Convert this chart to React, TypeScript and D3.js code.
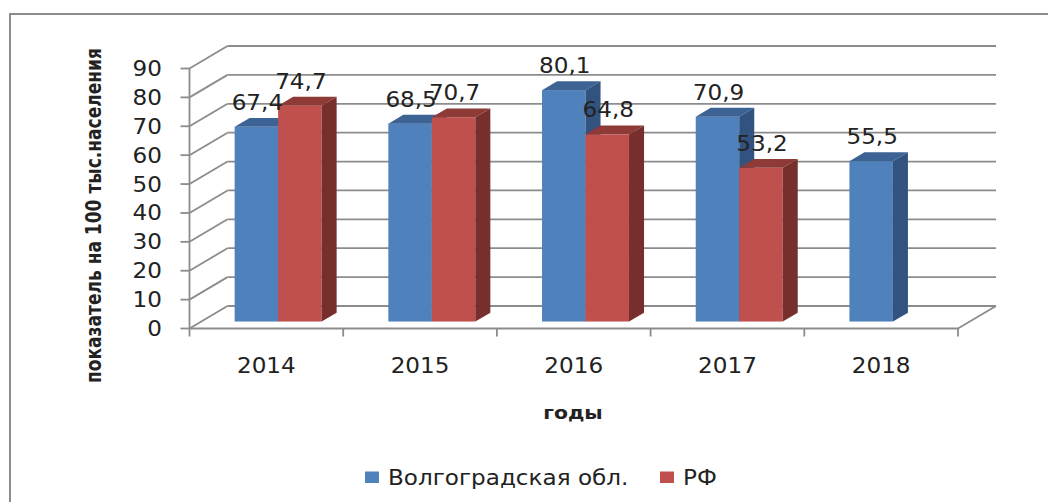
import React from 'react';
import * as d3 from 'd3';

// chart data
const years = ['2014', '2015', '2016', '2017', '2018'];
const seriesNames = ['Волгоградская обл.', 'РФ'];
const volgograd = [67.4, 68.5, 80.1, 70.9, 55.5];
const russia: (number | null)[] = [74.7, 70.7, 64.8, 53.2, null];
const yTicks = [0, 10, 20, 30, 40, 50, 60, 70, 80, 90];
const yTitle = 'показатель на 100 тыс.населения';
const xTitle = 'годы';

const W = 1048;
const H = 502;

// 3d projection: full depth offset of the floor
const DX = 38;
const DY = -22.5;
const F0 = 0.31; // bar front depth fraction
const F1 = 0.705; // bar back depth fraction

const colors = [
  {front: '#4f81bd', top: '#3c6394', side: '#32537f'},
  {front: '#c0504d', top: '#8e3a37', side: '#772f2e'},
];
const gridColor = '#8c8c8c';
const textColor = '#222';
const FONT = '"DejaVu Sans", Verdana, sans-serif';
const SX = 1.1; // horizontal stretch of the original text

const Txt: React.FC<{
  x: number;
  y: number;
  anchor?: string;
  size?: number;
  weight?: string;
  children: React.ReactNode;
}> = ({x, y, anchor = 'middle', size = 21, weight = 'normal', children}) => (
  <text
    transform={`translate(${x},${y}) scale(${SX},1)`}
    textAnchor={anchor}
    fontFamily={FONT}
    fontSize={size}
    fontWeight={weight}
    fill={textColor}
  >
    {children}
  </text>
);

export default function App() {
  const x = d3.scaleBand<string>().domain(years).range([189.5, 958]);
  const y = d3.scaleLinear().domain([0, 90]).range([328.5, 68.5]);
  const band = x.bandwidth();
  const barW = band * 0.283;
  const inner = (band - 2 * barW) / 2;
  const x0 = x.range()[0];
  const x1 = x.range()[1];

  const bars: {i: number; s: number; v: number}[] = [];
  years.forEach((_, i) => {
    [volgograd[i], russia[i]].forEach((v, s) => {
      if (v != null) bars.push({i, s, v});
    });
  });

  const barGeom = (b: {i: number; s: number; v: number}) => {
    const left = (x(years[b.i]) as number) + inner + b.s * barW + F0 * DX;
    const bottom = y(0) + F0 * DY;
    const top = bottom - (y(0) - y(b.v));
    const ddx = (F1 - F0) * DX;
    const ddy = (F1 - F0) * DY;
    return {left, right: left + barW, bottom, top, ddx, ddy};
  };

  const pts = (p: [number, number][]) => p.map((d) => d.join(',')).join(' ');

  return (
    <svg
      width={W}
      height={H}
      style={{position: 'absolute', left: 0, top: 0, background: '#fff'}}
    >
      <rect x={10} y={14} width={1060} height={520} fill="#fff" stroke={gridColor} strokeWidth={2} />

      {/* walls and grid */}
      <g stroke={gridColor} strokeWidth={1.8} fill="none">
        {yTicks.map((t) => (
          <g key={t}>
            <line x1={x0} y1={y(t)} x2={x0 + DX} y2={y(t) + DY} />
            <line x1={x0 + DX} y1={y(t) + DY} x2={x1 + DX} y2={y(t) + DY} />
            <line x1={x0 - 9} y1={y(t)} x2={x0} y2={y(t)} />
          </g>
        ))}
        <line x1={x0} y1={y(90)} x2={x0} y2={y(0)} />
        <line x1={x0} y1={y(0)} x2={x1} y2={y(0)} />
        <line x1={x1} y1={y(0)} x2={x1 + DX} y2={y(0) + DY} />
        {[...years.map((yr) => x(yr) as number), x1].map((px, k) => (
          <line key={k} x1={px} y1={y(0)} x2={px} y2={y(0) + 8} />
        ))}
      </g>

      {/* 3d bars */}
      {bars.map((b, k) => {
        const g = barGeom(b);
        const c = colors[b.s];
        return (
          <g key={k}>
            <rect x={g.left} y={g.top} width={barW} height={g.bottom - g.top} fill={c.front} />
            <polygon
              points={pts([
                [g.left, g.top],
                [g.right, g.top],
                [g.right + g.ddx, g.top + g.ddy],
                [g.left + g.ddx, g.top + g.ddy],
              ])}
              fill={c.top}
            />
            <polygon
              points={pts([
                [g.right, g.top],
                [g.right + g.ddx, g.top + g.ddy],
                [g.right + g.ddx, g.bottom + g.ddy],
                [g.right, g.bottom],
              ])}
              fill={c.side}
            />
          </g>
        );
      })}

      {/* data labels */}
      {bars.map((b, k) => {
        const g = barGeom(b);
        return (
          <Txt key={k} x={(g.left + g.right) / 2 + 1} y={g.top - 17}>
            {String(b.v).replace('.', ',')}
          </Txt>
        );
      })}

      {/* y tick labels */}
      {yTicks.map((t) => (
        <Txt key={t} x={162} y={y(t) + 7.5} anchor="end">
          {t}
        </Txt>
      ))}

      {/* x tick labels */}
      {years.map((yr) => (
        <Txt key={yr} x={(x(yr) as number) + band / 2} y={372.5}>
          {yr}
        </Txt>
      ))}

      {/* axis titles */}
      <text
        transform="translate(101,215.5) rotate(-90)"
        textAnchor="middle"
        fontFamily='"Liberation Sans Narrow", "DejaVu Sans Condensed", sans-serif'
        fontWeight="bold"
        fontSize={21.5}
        textLength={335}
        lengthAdjust="spacingAndGlyphs"
        fill={textColor}
      >
        {yTitle}
      </text>
      <Txt x={573} y={419} size={18.5} weight="bold">
        {xTitle}
      </Txt>

      {/* legend */}
      {seriesNames.map((name, s) => {
        const lx = s === 0 ? 365 : 660;
        return (
          <g key={name}>
            <rect x={lx} y={471.5} width={14} height={11.5} fill={colors[s].front} />
            <Txt x={lx + 23} y={484.5} anchor="start">
              {name}
            </Txt>
          </g>
        );
      })}
    </svg>
  );
}
